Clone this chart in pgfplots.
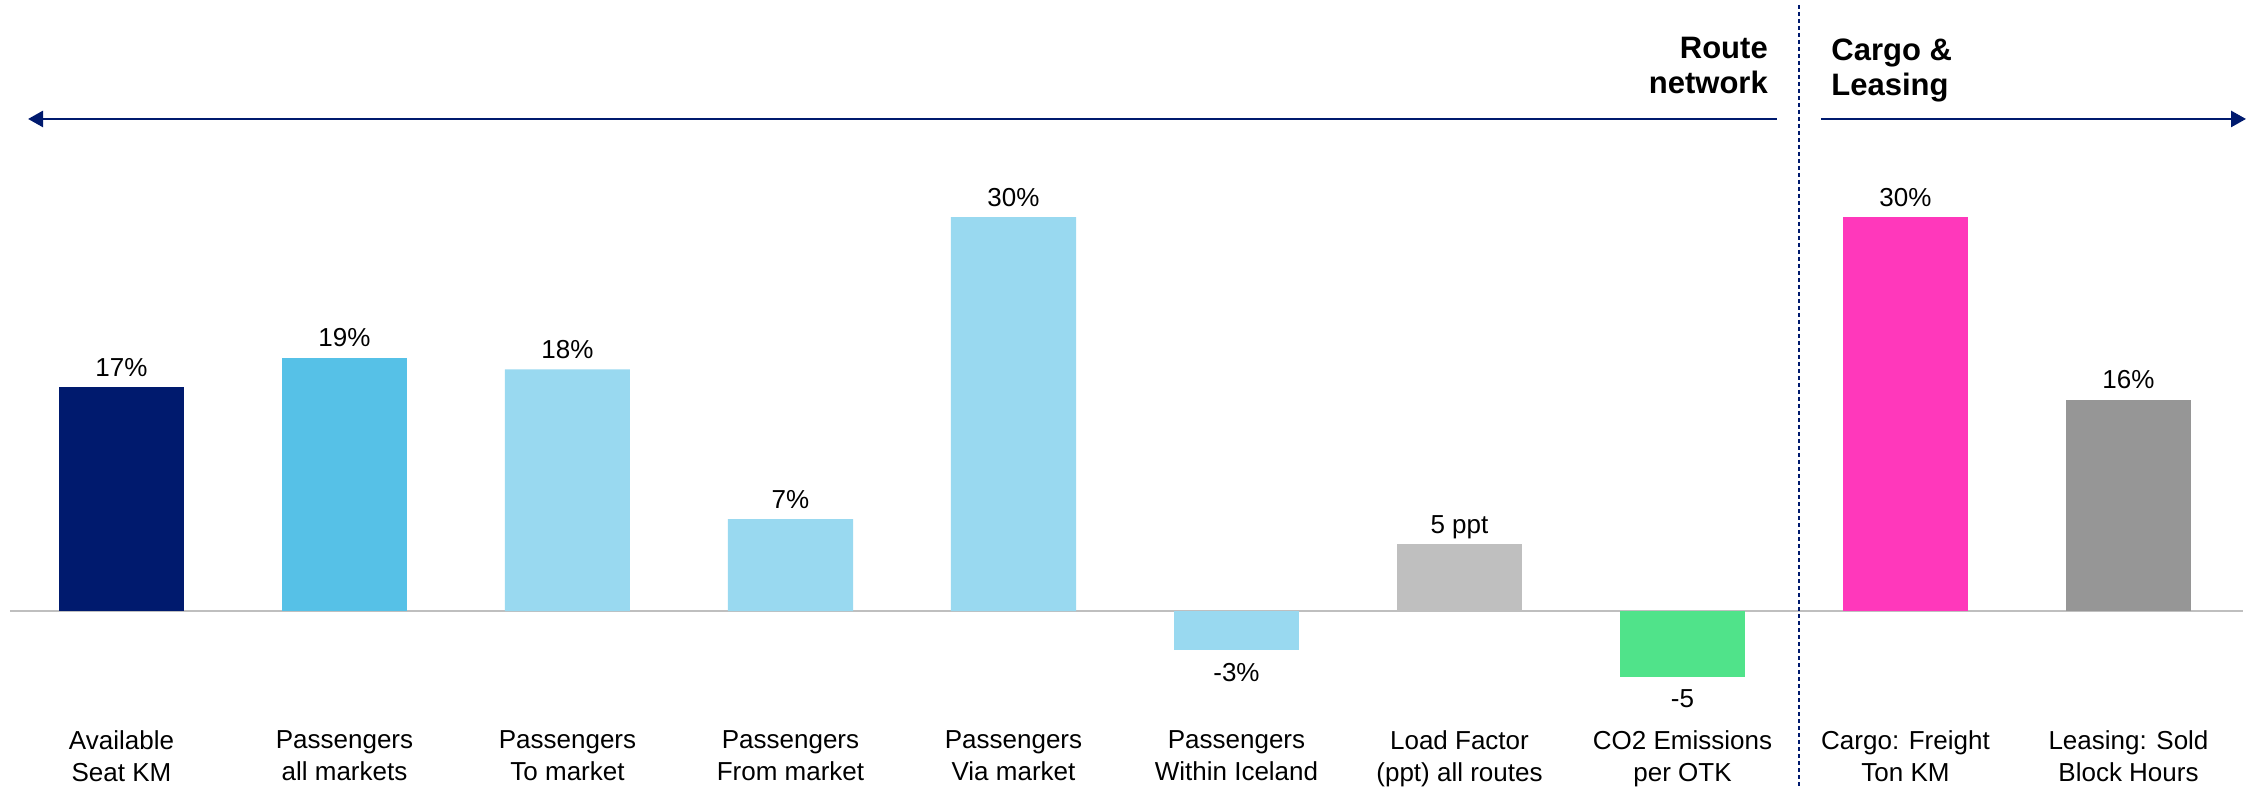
\documentclass[border=0pt]{standalone}
\usepackage{pgfplots}
\pgfplotsset{compat=1.18}
\usepackage{fontspec}
\setmainfont{Liberation Sans}
\usetikzlibrary{arrows.meta}
\definecolor{navy}{RGB}{0,26,110}
\definecolor{skyA}{RGB}{86,193,231}
\definecolor{skyB}{RGB}{153,217,240}
\definecolor{greyA}{RGB}{191,191,191}
\definecolor{greenA}{RGB}{80,227,138}
\definecolor{pinkA}{RGB}{255,56,187}
\definecolor{greyB}{RGB}{150,150,150}
\begin{document}
\begin{tikzpicture}
\begin{axis}[
  width=1127.5pt, height=393.5pt, scale only axis,
  xmin=-0.5448, xmax=9.5673, ymin=-13.40, ymax=46.53,
  axis line style={draw=none}, tick style={draw=none}, ytick=\empty,
  xtick={0,...,9},
  xticklabels={{Available\\Seat KM},{Passengers\\all markets},{Passengers\\To market},{Passengers\\From market},{Passengers\\Via market},{Passengers\\Within Iceland},{Load Factor\\(ppt) all routes},{CO2 Emissions\\per OTK},{Cargo: Freight\\Ton KM},{Leasing: Sold\\Block Hours}},
  xticklabel style={align=center, font=\fontsize{13}{16}\selectfont, anchor=north, yshift=36pt},
  ybar, bar width=62.5pt, bar shift=0pt,
  clip=false,
  point meta=explicit symbolic,
  nodes near coords,
  pos/.style={every node near coord/.append style={font=\fontsize{13}{16}\selectfont, anchor=base, yshift=5.5pt, text=black}},
  neg/.style={every node near coord/.append style={font=\fontsize{13}{16}\selectfont, anchor=base, yshift=-15.5pt, text=black}},
]
\draw[color=greyA, line width=1pt] (axis cs:-0.5,0) -- (axis cs:9.513,0);
\addplot[fill=navy, draw=none, pos] coordinates {(0,17.05) [17\%]};
\addplot[fill=skyA, draw=none, pos] coordinates {(1,19.3) [19\%]};
\addplot[fill=skyB, draw=none, pos] coordinates {(2,18.4) [18\%] (3,7.0) [7\%] (4,30) [30\%]};
\addplot[fill=skyB, draw=none, neg] coordinates {(5,-2.97) [-3\%]};
\addplot[fill=greyA, draw=none, pos] coordinates {(6,5.1) [5 ppt]};
\addplot[fill=greenA, draw=none, neg] coordinates {(7,-5.0) [-5]};
\addplot[fill=pinkA, draw=none, pos] coordinates {(8,30) [30\%]};
\addplot[fill=greyB, draw=none, pos] coordinates {(9,16.1) [16\%]};
\draw[navy, line width=1.35pt, -{Triangle[length=7.5pt,width=8pt]}] (axis cs:7.423,37.47) -- (axis cs:-0.419,37.47);
\draw[navy, line width=1.35pt, -{Triangle[length=7.5pt,width=8pt]}] (axis cs:7.620,37.47) -- (axis cs:9.527,37.47);
\draw[navy, line width=0.6pt, dash pattern=on 2pt off 1.5pt] (axis cs:7.522,46.15) -- (axis cs:7.522,-13.40);
\node[anchor=north east, align=right, inner sep=0pt, font=\fontsize{15.5}{17.5}\selectfont\bfseries] at (axis cs:7.384,43.75) {Route\\network};
\node[anchor=north west, align=left, inner sep=0pt, font=\fontsize{15.5}{17.5}\selectfont\bfseries] at (axis cs:7.666,43.6) {Cargo \&\\Leasing};
\end{axis}
\pgfresetboundingbox
\useasboundingbox (current axis.south west) rectangle (current axis.north east);
\end{tikzpicture}
\end{document}
